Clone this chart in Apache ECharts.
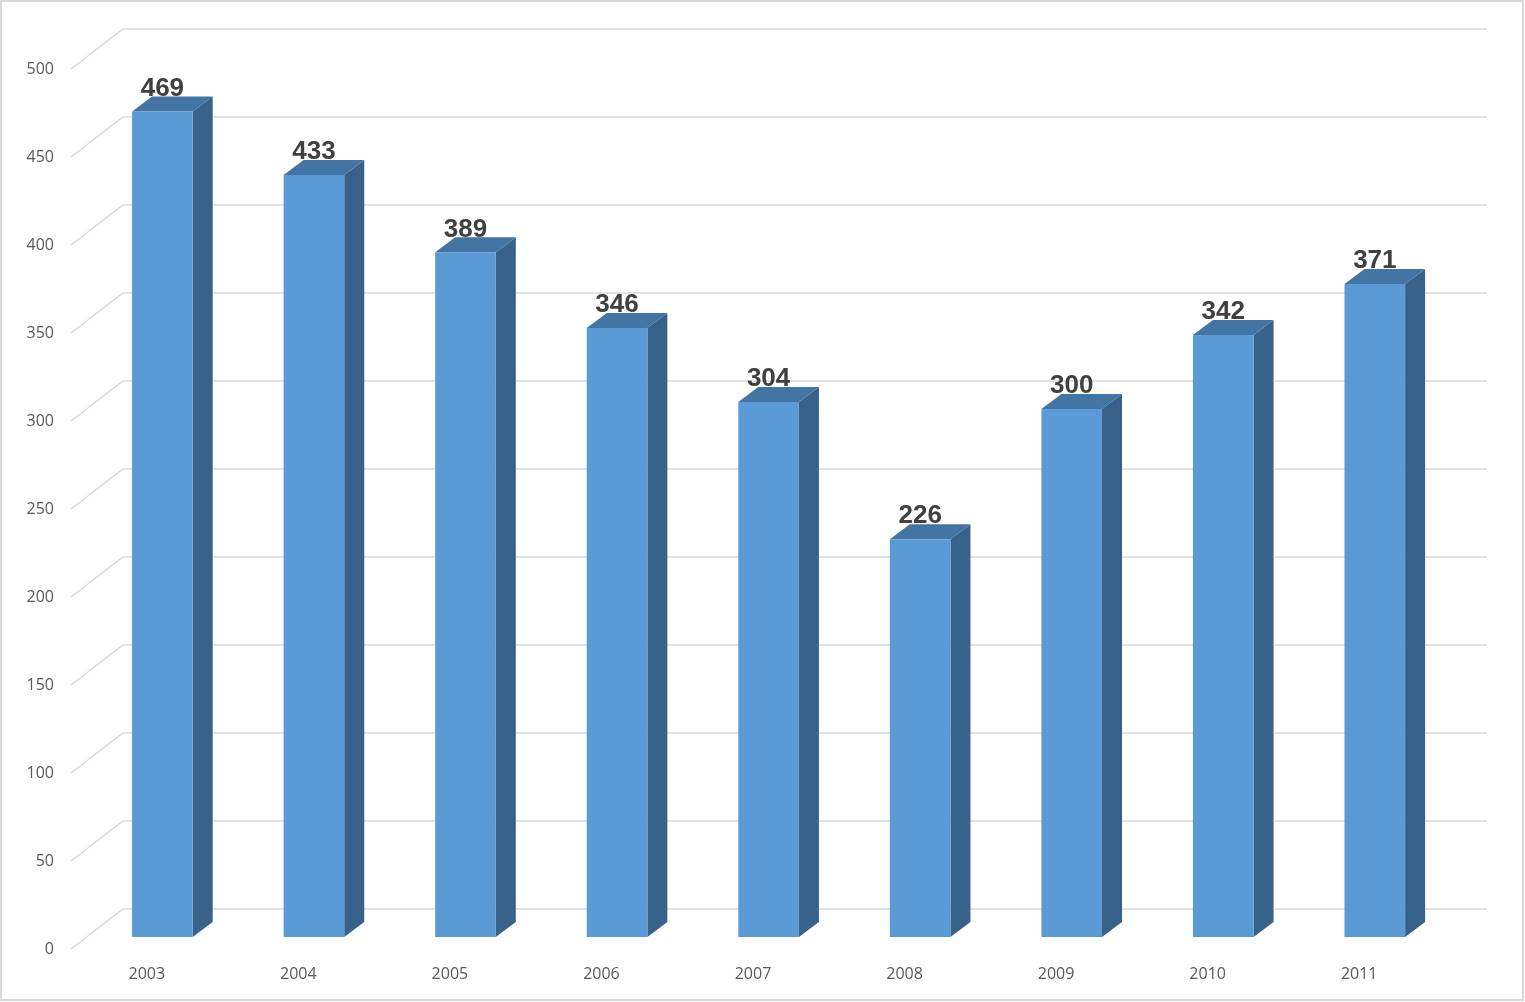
<!DOCTYPE html>
<html>
<head>
<meta charset="utf-8">
<style>
html,body{margin:0;padding:0;background:#fff;}
#chart{width:1525px;height:1002px;}
</style>
<script src="https://cdn.jsdelivr.net/npm/echarts@6/dist/echarts.min.js"></script>
</head>
<body>
<div id="chart"></div>
<script>
var categories = ['2003','2004','2005','2006','2007','2008','2009','2010','2011'];
var values = [469, 433, 389, 346, 304, 226, 300, 342, 371];
var yTicks = [0, 50, 100, 150, 200, 250, 300, 350, 400, 450, 500];

// depth geometry (styling of the pseudo-3D look)
var WALL_DX = 52, WALL_DY = -40;     // floor front -> back wall
var BAR_DX = 15.6, BAR_DY = -12;     // floor front -> bar front face
var BAR_DEPTH_DX = 20, BAR_DEPTH_DY = -15; // bar thickness

var chart = echarts.init(document.getElementById('chart'));

function gridItem(params, api) {
  var cs = params.coordSys;
  var v = api.value(0);
  var y = api.coord([0, v])[1];
  var x0 = cs.x;
  var x1 = cs.x + cs.width;
  return {
    type: 'polyline',
    shape: { points: [[x0, y], [x0 + WALL_DX, y + WALL_DY], [x1 + WALL_DX, y + WALL_DY]] },
    style: { stroke: '#d9d9d9', lineWidth: 1.5, fill: null },
    silent: true
  };
}

function barItem(params, api) {
  var idx = api.value(0);
  var v = api.value(1);
  var top = api.coord([idx, v]);
  var base = api.coord([idx, 0]);
  var w = api.size([1, 0])[0] * 0.4;
  var cx = top[0] + BAR_DX;
  var xl = cx - w / 2, xr = cx + w / 2;
  var yt = top[1] + BAR_DY, yb = base[1] + BAR_DY;
  var dx = BAR_DEPTH_DX, dy = BAR_DEPTH_DY;
  return {
    type: 'group',
    children: [
      { type: 'polygon', shape: { points: [[xr, yb], [xr + dx, yb + dy], [xr + dx, yt + dy], [xr, yt]] },
        style: { fill: '#38628a' } },
      { type: 'polygon', shape: { points: [[xl, yt], [xl + dx, yt + dy], [xr + dx, yt + dy], [xr, yt]] },
        style: { fill: '#4275a3' } },
      { type: 'rect', shape: { x: xl, y: yt, width: w, height: yb - yt },
        style: { fill: '#5b9bd5' } },
      { type: 'text', x: cx, y: yt + dy + 5,
        style: { text: String(v), fill: '#404040', font: 'bold 26px "Liberation Sans", Arial, sans-serif',
                 align: 'center', verticalAlign: 'bottom' } }
    ]
  };
}

chart.setOption({
  animation: false,
  backgroundColor: '#ffffff',
  graphic: [{
    type: 'rect', shape: { x: 1, y: 1, width: 1522, height: 999 },
    style: { fill: null, stroke: '#d9d9d9', lineWidth: 2 }, z: 100, silent: true
  }],
  grid: { left: 71, right: 90, top: 69, bottom: 53 },
  xAxis: {
    type: 'category',
    data: categories,
    axisLine: { show: false },
    axisTick: { show: false },
    splitLine: { show: false },
    axisLabel: { color: '#595959', fontSize: 16, fontFamily: '"Open Sans", "Liberation Sans", sans-serif', margin: 17 }
  },
  yAxis: {
    type: 'value',
    min: 0, max: 500, interval: 50,
    axisLine: { show: false },
    axisTick: { show: false },
    splitLine: { show: false },
    axisLabel: { color: '#595959', fontSize: 16, fontFamily: '"Open Sans", "Liberation Sans", sans-serif', margin: 17 }
  },
  series: [
    {
      type: 'custom',
      renderItem: gridItem,
      data: yTicks.map(function (t) { return [t]; }),
      encode: { y: 0 },
      z: 1,
      silent: true
    },
    {
      type: 'custom',
      renderItem: barItem,
      data: values.map(function (v, i) { return [i, v]; }),
      encode: { x: 0, y: 1 },
      z: 2
    }
  ]
});
</script>
</body>
</html>
